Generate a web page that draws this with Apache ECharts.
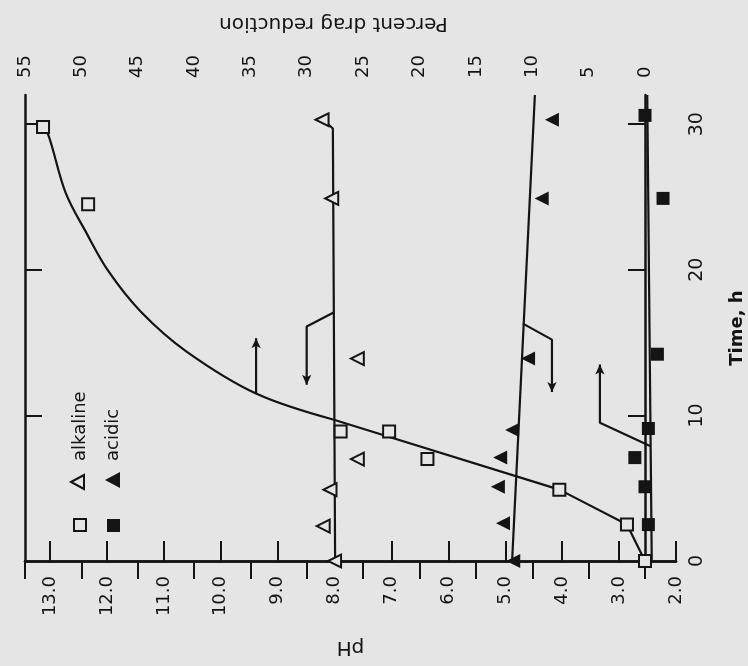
<!DOCTYPE html>
<html>
<head>
<meta charset="utf-8">
<script src="https://cdn.jsdelivr.net/npm/echarts@6/dist/echarts.min.js"></script>
<style>
  html, body { margin: 0; padding: 0; background: #e5e5e5; }
  #chart { width: 748px; height: 666px; }
</style>
</head>
<body>
<div id="chart"></div>
<script>
// ---- data (time in h, value) ----
const timeTicks = [0, 10, 20, 30];
const leftTimeTicks = [10, 20, 30];
const phTicks = [2, 3, 4, 5, 6, 7, 8, 9, 10, 11, 12, 13];
const drTicks = [0, 5, 10, 15, 20, 25, 30, 35, 40, 45, 50, 55];

// percent drag reduction, alkaline (open squares)
const alkalineDR = [[0, 0], [2.5, 1.6], [4.9, 7.6], [7.0, 19.3], [8.9, 22.7], [8.9, 27.0], [24.5, 49.4], [29.8, 53.4]];
// hand-drawn fit through alkaline drag reduction: straight lower part, curved upper part
const alkalineDRLower = [[0, 0], [2.5, 1.6], [4.9, 7.6], [9.7, 27.6]];
const alkalineDRUpper = [[9.7, 27.6], [11.5, 34.5], [14.4, 40.7], [17.1, 44.7], [19.9, 47.6], [22.6, 49.6], [25.3, 51.4], [29.2, 52.9], [29.8, 53.4]];
// percent drag reduction, acidic (filled squares)
const acidicDR = [[2.5, -0.3], [5.1, 0], [7.1, 0.9], [9.1, -0.3], [14.2, -1.1], [24.9, -1.6], [30.6, 0]];
const acidicDRLine = [[0, -0.6], [32, -0.2]];
// pH, alkaline (open triangles)
const alkalinePH = [[0, 8.0], [2.4, 8.2], [4.9, 8.08], [7.0, 7.6], [13.9, 7.6], [24.9, 8.05], [30.3, 8.22]];
const alkalinePHLine = [[0, 7.99], [29.7, 8.03], [30.3, 8.2]];
// pH, acidic (filled triangles)
const acidicPH = [[0, 4.86], [2.6, 5.04], [5.1, 5.13], [7.1, 5.09], [9.0, 4.88], [13.9, 4.60], [24.9, 4.36], [30.3, 4.18]];
const acidicPHLine = [[0, 4.88], [32, 4.48]];

// axis-pointer arrows (time, value)
const arrowAlkDR = [[11.5, 34.5], [15.3, 34.5]];
const arrowAlkPH = [[17.1, 8.0], [16.1, 8.49], [12.1, 8.49]];
const arrowAcidPH = [[16.3, 4.69], [15.2, 4.18], [11.6, 4.18]];
const arrowAcidDR = [[7.9, -0.45], [9.5, 4.0], [13.5, 4.0]];

// ---- chart ----
const BG = '#e5e5e5';
const INK = '#141414';
const xy = arr => arr.map(p => [p[1], p[0]]);
function arrowData(arr, up) {
  const d = xy(arr);
  return d.map((v, i) => i === d.length - 1
    ? { value: v, symbol: 'arrow', symbolSize: [7, 10], symbolRotate: up ? 0 : 180 }
    : { value: v, symbol: 'none' });
}

const chart = echarts.init(document.getElementById('chart'), null, { renderer: 'canvas' });
const labelFont = { color: INK, fontFamily: 'DejaVu Sans', fontSize: 18 };
const lineS = { color: INK, width: 2.2 };

const option = {
  backgroundColor: BG,
  animation: false,
  grid: { left: 25, right: 72, top: 95, bottom: 105, containLabel: false, outerBoundsMode: 'none' },
  xAxis: [
    {
      type: 'value', position: 'bottom', inverse: true, min: 2, max: 13.44,
      name: 'pH', nameLocation: 'middle', nameRotate: 180, nameGap: 76,
      nameTextStyle: { color: INK, fontFamily: 'DejaVu Sans', fontSize: 20 },
      axisLine: { lineStyle: { color: INK, width: 2.5 } },
      axisTick: { inside: true, length: 20, lineStyle: { color: INK, width: 2 }, customValues: phTicks },
      axisLabel: Object.assign({ rotate: 90, margin: 15, customValues: phTicks, formatter: v => Number(v).toFixed(1) }, labelFont),
      splitLine: { show: false }
    },
    {
      type: 'value', position: 'top', inverse: true, min: -2.75, max: 55,
      name: 'Percent drag reduction', nameLocation: 'middle', nameRotate: 180, nameGap: 62,
      nameTextStyle: { color: INK, fontFamily: 'DejaVu Sans', fontSize: 20, padding: [0, 0, 0, 34] },
      axisLine: { lineStyle: { color: INK, width: 2.5 } },
      axisTick: { inside: true, length: 18, lineStyle: { color: INK, width: 2 }, customValues: drTicks },
      axisLabel: Object.assign({ rotate: 90, margin: 17, customValues: drTicks, formatter: v => String(v) }, labelFont),
      splitLine: { show: false }
    }
  ],
  yAxis: [
    {
      type: 'value', position: 'right', min: 0, max: 32,
      name: 'Time, h', nameLocation: 'middle', nameRotate: 90, nameGap: 52,
      nameTextStyle: { color: INK, fontFamily: 'DejaVu Sans', fontSize: 18, fontWeight: 'bold' },
      axisLine: { lineStyle: { color: INK, width: 2.5 } },
      axisTick: { inside: true, length: 17, lineStyle: { color: INK, width: 2 }, customValues: leftTimeTicks },
      axisLabel: Object.assign({ rotate: 90, margin: 12, customValues: timeTicks, formatter: v => String(v) }, labelFont, { fontSize: 19 }),
      splitLine: { show: false }
    },
    {
      type: 'value', position: 'left', min: 0, max: 32,
      axisLine: { lineStyle: { color: INK, width: 2.5 } },
      axisTick: { inside: true, length: 17, lineStyle: { color: INK, width: 2 }, customValues: leftTimeTicks },
      axisLabel: { show: false },
      splitLine: { show: false }
    }
  ],
  series: [
    { type: 'line', xAxisIndex: 1, yAxisIndex: 0, data: xy(alkalineDRLower), showSymbol: false, symbol: 'none', lineStyle: lineS, z: 2 },
    { type: 'line', xAxisIndex: 1, yAxisIndex: 0, data: xy(alkalineDRUpper), smooth: 0.35, showSymbol: false, symbol: 'none', lineStyle: lineS, z: 2 },
    { type: 'line', xAxisIndex: 1, yAxisIndex: 0, data: xy(acidicDRLine), showSymbol: false, symbol: 'none', lineStyle: lineS, z: 2 },
    { type: 'line', xAxisIndex: 0, yAxisIndex: 0, data: xy(alkalinePHLine), showSymbol: false, symbol: 'none', lineStyle: lineS, z: 2 },
    { type: 'line', xAxisIndex: 0, yAxisIndex: 0, data: xy(acidicPHLine), showSymbol: false, symbol: 'none', lineStyle: lineS, z: 2 },

    { type: 'line', xAxisIndex: 1, yAxisIndex: 0, data: arrowData(arrowAlkDR, true), lineStyle: lineS, itemStyle: { color: INK, opacity: 1 }, z: 2 },
    { type: 'line', xAxisIndex: 0, yAxisIndex: 0, data: arrowData(arrowAlkPH, false), lineStyle: lineS, itemStyle: { color: INK, opacity: 1 }, z: 2 },
    { type: 'line', xAxisIndex: 0, yAxisIndex: 0, data: arrowData(arrowAcidPH, false), lineStyle: lineS, itemStyle: { color: INK, opacity: 1 }, z: 2 },
    { type: 'line', xAxisIndex: 1, yAxisIndex: 0, data: arrowData(arrowAcidDR, true), lineStyle: lineS, itemStyle: { color: INK, opacity: 1 }, z: 2 },

    { type: 'scatter', name: 'alkaline', xAxisIndex: 1, yAxisIndex: 0, data: xy(alkalineDR), symbol: 'rect', symbolSize: 12,
      itemStyle: { color: BG, borderColor: INK, borderWidth: 2, opacity: 1 }, z: 5 },
    { type: 'scatter', name: 'acidic', xAxisIndex: 1, yAxisIndex: 0, data: xy(acidicDR), symbol: 'rect', symbolSize: 13,
      itemStyle: { color: INK, opacity: 1 }, z: 5 },
    { type: 'scatter', name: 'alkaline pH', xAxisIndex: 0, yAxisIndex: 0, data: xy(alkalinePH), symbol: 'triangle', symbolSize: 13,
      symbolRotate: 90, itemStyle: { color: BG, borderColor: INK, borderWidth: 2, opacity: 1 }, z: 5 },
    { type: 'scatter', name: 'acidic pH', xAxisIndex: 0, yAxisIndex: 0, data: xy(acidicPH), symbol: 'triangle', symbolSize: 14,
      symbolRotate: 90, itemStyle: { color: INK, opacity: 1 }, z: 5 }
  ],
  graphic: [
    { type: 'rect', shape: { x: 74, y: 519, width: 12, height: 12 }, style: { fill: BG, stroke: INK, lineWidth: 2 }, z: 10 },
    { type: 'polygon', shape: { points: [[71, 482], [84, 475], [84, 489]] }, style: { fill: BG, stroke: INK, lineWidth: 2 }, z: 10 },
    { type: 'text', x: 80, y: 461, rotation: Math.PI / 2,
      style: { text: 'alkaline', fill: INK, font: '18px "DejaVu Sans"', textAlign: 'left', textVerticalAlign: 'middle' }, z: 10 },
    { type: 'rect', shape: { x: 107, y: 519, width: 13, height: 13 }, style: { fill: INK }, z: 10 },
    { type: 'polygon', shape: { points: [[105, 480], [120, 472], [120, 488]] }, style: { fill: INK }, z: 10 },
    { type: 'text', x: 113, y: 461, rotation: Math.PI / 2,
      style: { text: 'acidic', fill: INK, font: '18px "DejaVu Sans"', textAlign: 'left', textVerticalAlign: 'middle' }, z: 10 }
  ]
};
chart.setOption(option);
</script>
</body>
</html>
